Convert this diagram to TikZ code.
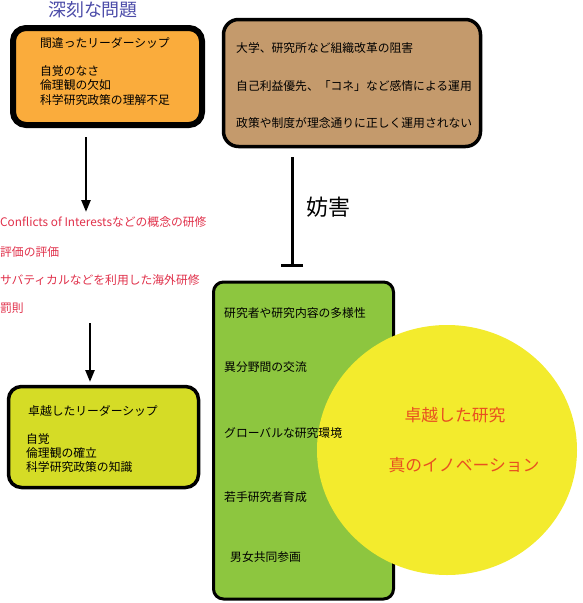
\documentclass[tikz,border=0pt]{standalone}
\usepackage{fontspec}
\setmainfont{Noto Sans CJK JP}
\usetikzlibrary{arrows.meta,shapes.geometric}
\definecolor{orangec}{RGB}{250,172,60}
\definecolor{brownc}{RGB}{196,154,108}
\definecolor{olivec}{RGB}{213,220,38}
\definecolor{greenc}{RGB}{141,198,63}
\definecolor{yellowc}{RGB}{243,235,45}
\definecolor{redt}{RGB}{224,48,74}
\definecolor{oranget}{RGB}{232,80,32}
\definecolor{bluet}{RGB}{75,75,168}
\begin{document}
\begin{tikzpicture}[x=1pt,y=-1pt,
  box/.style={draw=black,rounded corners=13pt,inner sep=0pt},
  txt/.style={anchor=west,inner sep=0pt,font=\fontsize{11.8pt}{13pt}\selectfont},
  redtxt/.style={txt,text=redt},
  bigtxt/.style={inner sep=0pt,text=oranget,font=\fontsize{16.8pt}{19pt}\selectfont},
  arr/.style={line width=2.5pt,-{Triangle[width=9pt,length=12pt]}}]
\useasboundingbox (0,0) rectangle (582,603);
% boxes
\node[box,fill=orangec,line width=6pt,minimum width=189pt,minimum height=97pt] (prob) at (107.5,76.5) {};
\node[box,fill=brownc,line width=3.5pt,minimum width=257pt,minimum height=127pt,rounded corners=15pt] (org) at (352,83) {};
\node[box,fill=olivec,line width=3.5pt,minimum width=190pt,minimum height=101pt] (good) at (103.5,437) {};
\node[box,fill=greenc,line width=3pt,minimum width=180pt,minimum height=317pt,rounded corners=10pt] (env) at (303.5,440.5) {};
\node[fill=yellowc,ellipse,minimum width=260pt,minimum height=250pt,inner sep=0pt] (circ) at (447,450) {};
% title
\node[inner sep=0pt,text=bluet,font=\fontsize{18pt}{20pt}\selectfont] (title) at (93,10) {深刻な問題};
% orange box text
\node[txt] (p1) at (40,43) {間違ったリーダーシップ};
\node[txt] (p2) at (40,71) {自覚のなさ};
\node[txt] (p3) at (40,85) {倫理観の欠如};
\node[txt] (p4) at (40,100) {科学研究政策の理解不足};
% brown box text
\node[txt] (o1) at (236,48) {大学、研究所など組織改革の阻害};
\node[txt] (o2) at (236,86) {自己利益優先、「コネ」など感情による運用};
\node[txt] (o3) at (236,123) {政策や制度が理念通りに正しく運用されない};
% red texts
\node[redtxt] (r1) at (0,222) {Conflicts of Interestsなどの概念の研修};
\node[redtxt] (r2) at (0,252) {評価の評価};
\node[redtxt] (r3) at (0,280) {サバティカルなどを利用した海外研修};
\node[redtxt] (r4) at (0,308) {罰則};
% olive box text
\node[txt] (g1) at (28,411) {卓越したリーダーシップ};
\node[txt] (g2) at (26,439) {自覚};
\node[txt] (g3) at (26,453) {倫理観の確立};
\node[txt] (g4) at (26,467) {科学研究政策の知識};
% green box text
\node[txt] (e1) at (224,313) {研究者や研究内容の多様性};
\node[txt] (e2) at (224,367) {異分野間の交流};
\node[txt] (e3) at (224,433) {グローバルな研究環境};
\node[txt] (e4) at (224,497) {若手研究者育成};
\node[txt] (e5) at (230,557) {男女共同参画};
% circle text
\node[bigtxt] (c1) at (455,415) {卓越した研究};
\node[bigtxt] (c2) at (464,465) {真のイノベーション};
% connectors
\coordinate (a1s) at (86,137);
\coordinate (a1e) at (86,212);
\draw[arr] (a1s) -- (a1e);
\coordinate (a2s) at (90,323);
\coordinate (a2e) at (90,382);
\draw[arr] (a2s) -- (a2e);
\coordinate (hs) at (292,157);
\coordinate (he) at (292,267);
\draw[line width=3pt,-{Bar[width=22pt,line width=3pt]}] (hs) -- (he);
\node[inner sep=0pt,font=\fontsize{22pt}{24pt}\selectfont] (inh) at (328,207) {妨害};
\end{tikzpicture}
\end{document}
